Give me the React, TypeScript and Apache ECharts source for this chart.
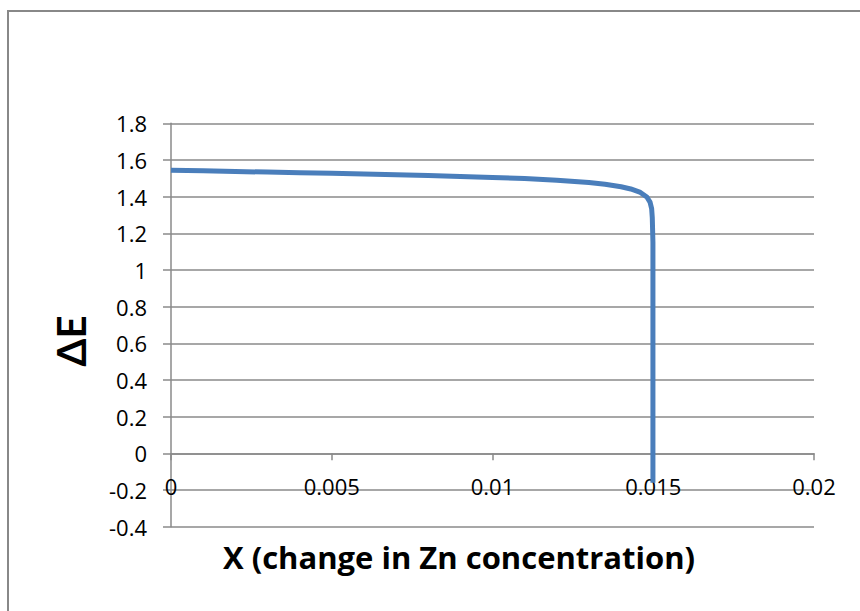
import React, { useEffect, useRef } from "react";
import * as echarts from "echarts";

const xValues: number[] = [
  0, 0.001, 0.002, 0.003, 0.004, 0.005, 0.006, 0.007, 0.008, 0.009, 0.01,
  0.011, 0.012, 0.013, 0.0135, 0.014, 0.0143, 0.0146, 0.0148, 0.0149,
  0.01495, 0.01497, 0.01499, 0.01499,
];
const deltaE: number[] = [
  1.544, 1.541, 1.537, 1.534, 1.53, 1.527, 1.523, 1.519, 1.515, 1.51, 1.505,
  1.499, 1.49, 1.477, 1.468, 1.454, 1.442, 1.423, 1.398, 1.37, 1.335, 1.285,
  1.15, -0.16,
];
const xTicks = { min: 0, max: 0.02, interval: 0.005 };
const yTicks = { min: -0.4, max: 1.8, interval: 0.2 };
const yTitle = "ΔE";
const xTitle = "X (change in Zn concentration)";

const FONT = "'Open Sans', Lato, 'DejaVu Sans', sans-serif";
const GRID = "#8a8a8a";

const GRID_TOP = 123.3;
const GRID_BOTTOM = 84.3;
const PLOT_H = 611 - GRID_TOP - GRID_BOTTOM;

export default function App() {
  const ref = useRef<HTMLDivElement>(null);
  useEffect(() => {
    if (!ref.current) return;
    const chart = echarts.init(ref.current, undefined, { renderer: "svg" });
    // place the x axis on y = 0 by shifting it up from the grid bottom
    const zeroShift =
      (PLOT_H * (0 - yTicks.min)) / (yTicks.max - yTicks.min);
    chart.setOption({
      animation: false,
      backgroundColor: "#ffffff",
      grid: { left: 171, right: 46, top: GRID_TOP, bottom: GRID_BOTTOM, containLabel: false },
      xAxis: {
        type: "value",
        min: xTicks.min,
        max: xTicks.max,
        interval: xTicks.interval,
        offset: -zeroShift,
        axisLine: { show: true, onZero: false, lineStyle: { color: GRID, width: 1.5 } },
        axisTick: { show: true, inside: false, length: 7, lineStyle: { color: GRID, width: 1.5 } },
        splitLine: { show: false },
        axisLabel: {
          margin: 22,
          fontFamily: FONT,
          fontSize: 22,
          color: "#000",
          formatter: (v: number) => String(Number(v.toFixed(3))),
        },
      },
      yAxis: {
        type: "value",
        min: yTicks.min,
        max: yTicks.max,
        interval: yTicks.interval,
        axisLine: { show: true, onZero: false, lineStyle: { color: GRID, width: 1.5 } },
        axisTick: { show: true, inside: false, length: 8, lineStyle: { color: GRID, width: 1.5 } },
        splitLine: { show: true, lineStyle: { color: GRID, width: 1.5 } },
        axisLabel: {
          margin: 24,
          fontFamily: FONT,
          fontSize: 22,
          color: "#000",
          formatter: (v: number) => String(Number(v.toFixed(1))),
        },
      },
      series: [
        {
          type: "line",
          data: xValues.map((x, i) => [x, deltaE[i]]),
          showSymbol: false,
          smooth: false,
          lineStyle: { color: "#4a7ebb", width: 5, cap: "butt", join: "round" },
          itemStyle: { color: "#4a7ebb" },
        },
      ],
      graphic: [
        {
          type: "rect",
          shape: { x: 8, y: 11, width: 900, height: 700 },
          style: { fill: "none", stroke: "#888888", lineWidth: 2 },
          silent: true,
        },
        {
          type: "text",
          x: 71,
          y: 341,
          rotation: Math.PI / 2,
          style: {
            text: yTitle,
            font: `bold 40px Lato, 'Open Sans', sans-serif`,
            fill: "#000",
            align: "center",
            verticalAlign: "middle",
          },
        },
        {
          type: "text",
          x: 459,
          y: 557,
          style: {
            text: xTitle,
            font: `bold 31px ${FONT}`,
            fill: "#000",
            align: "center",
            verticalAlign: "middle",
          },
        },
      ],
    });
    return () => chart.dispose();
  }, []);
  return (
    <div
      ref={ref}
      style={{ position: "fixed", left: 0, top: 0, width: 860, height: 611 }}
    />
  );
}
